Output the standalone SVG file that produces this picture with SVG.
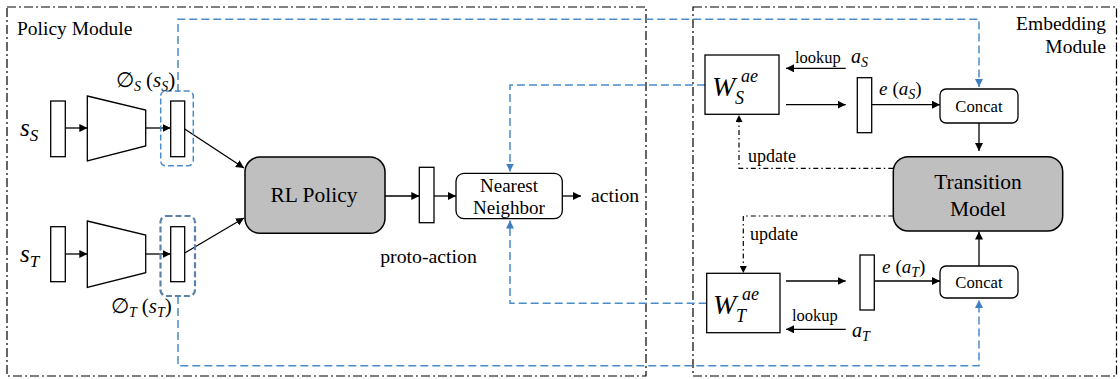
<svg xmlns="http://www.w3.org/2000/svg" width="1120" height="379" viewBox="0 0 1120 379" font-family="'Liberation Serif', serif">
<style>
text{font-family:'Liberation Serif',serif;fill:#000}
.m{font-style:italic}
.u{font-style:normal}
.box{fill:#fff;stroke:#000;stroke-width:1.3}
.gray{fill:#bfbfbf;stroke:#000;stroke-width:1.5}
.mod{fill:none;stroke:#000;stroke-width:1.2;stroke-dasharray:9 3 2 3}
.ln{fill:none;stroke:#000;stroke-width:1.3}
.dd{fill:none;stroke:#000;stroke-width:1.2;stroke-dasharray:5 3 1.5 3}
.bl{fill:none;stroke:#4a8bc8;stroke-width:1.5;stroke-dasharray:8 4}
</style>
<defs>
<marker id="ah" viewBox="0 0 10 10" refX="10" refY="5" markerWidth="8" markerHeight="8" markerUnits="userSpaceOnUse" orient="auto"><path d="M0,0 L10,5 L0,10 z" fill="#000"/></marker>
<marker id="ahs" viewBox="0 0 10 10" refX="10" refY="5" markerWidth="7" markerHeight="7" markerUnits="userSpaceOnUse" orient="auto"><path d="M0,0 L10,5 L0,10 z" fill="#000"/></marker>
<marker id="ab" viewBox="0 0 10 10" refX="10" refY="5" markerWidth="8" markerHeight="8" markerUnits="userSpaceOnUse" orient="auto"><path d="M0,0 L10,5 L0,10 z" fill="#3f7fc0"/></marker>
</defs>

<g id="modules">
<rect class="mod" x="7" y="7" width="639" height="369"/>
<rect class="mod" x="693" y="7" width="423.5" height="369"/>
<text x="17" y="35" font-size="19.5">Policy Module</text>
<text x="1106" y="30" font-size="19.5" text-anchor="end">Embedding</text>
<text x="1106" y="53" font-size="19.5" text-anchor="end">Module</text>
</g>

<g id="connectors">
<path class="bl" d="M178,92 V19.3 H979 V87" marker-end="url(#ab)"/>
<path class="bl" d="M178,296 V365.7 H979 V300" marker-end="url(#ab)"/>
<path class="bl" d="M705,85 H510 V171.5" marker-end="url(#ab)"/>
<path class="bl" d="M706.7,303.3 H510 V220.5" marker-end="url(#ab)"/>
<line class="ln" x1="65.3" y1="128" x2="87.3" y2="128" marker-end="url(#ah)"/>
<line class="ln" x1="145.7" y1="128" x2="170.7" y2="128" marker-end="url(#ah)"/>
<line class="ln" x1="65.3" y1="254" x2="87.3" y2="254" marker-end="url(#ah)"/>
<line class="ln" x1="145.7" y1="254" x2="170.7" y2="254" marker-end="url(#ah)"/>
<line class="ln" x1="184.7" y1="129" x2="244" y2="168" marker-end="url(#ah)"/>
<line class="ln" x1="184.7" y1="253" x2="244" y2="218" marker-end="url(#ah)"/>
<line class="ln" x1="385" y1="196" x2="419.3" y2="196" marker-end="url(#ah)"/>
<line class="ln" x1="434" y1="196" x2="456" y2="196" marker-end="url(#ah)"/>
<line class="ln" x1="562.3" y1="196" x2="581" y2="196" marker-end="url(#ah)"/>
<line class="ln" x1="845.7" y1="68.3" x2="786" y2="68.3" marker-end="url(#ah)"/>
<line class="ln" x1="786" y1="104.7" x2="845.7" y2="104.7" marker-end="url(#ah)"/>
<line class="ln" x1="871.7" y1="104.7" x2="940" y2="104.7" marker-end="url(#ah)"/>
<line class="ln" x1="979" y1="123" x2="979" y2="151" marker-end="url(#ah)"/>
<line class="ln" x1="786" y1="281" x2="845.7" y2="281" marker-end="url(#ah)"/>
<line class="ln" x1="874.3" y1="281" x2="940" y2="281" marker-end="url(#ah)"/>
<line class="ln" x1="979" y1="266" x2="979" y2="231.5" marker-end="url(#ah)"/>
<line class="ln" x1="845.7" y1="329.3" x2="786" y2="329.3" marker-end="url(#ah)"/>
<path class="dd" d="M893.3,168.3 H739 V115" marker-end="url(#ahs)"/>
<path class="dd" d="M893.3,216 H743.3 V273" marker-end="url(#ahs)"/>
</g>

<g id="input-s">
<rect class="box" x="50.7" y="101" width="14.6" height="55.7"/>
<text class="m" x="20" y="136" font-size="25">s<tspan font-size="17" dy="5">S</tspan></text>
</g>
<g id="encoder-s">
<path class="box" d="M87.3,96 L145.7,110 L145.7,146 L87.3,161 Z"/>
</g>
<g id="feature-s">
<rect class="box" x="170.7" y="101" width="14" height="55.7"/>
<rect x="160.7" y="91" width="32.6" height="74.7" rx="5" fill="none" stroke="#4a8bc8" stroke-width="1.5" stroke-dasharray="6 3"/>
<text x="116" y="87" font-size="21">∅<tspan class="m" font-size="14" dy="4">S</tspan><tspan dy="-4" dx="5">(</tspan><tspan class="m">s</tspan><tspan class="m" font-size="14" dy="4">S</tspan><tspan dy="-4">)</tspan></text>
</g>

<g id="input-t">
<rect class="box" x="50.7" y="226.7" width="14.6" height="55"/>
<text class="m" x="20" y="262" font-size="25">s<tspan font-size="17" dy="5">T</tspan></text>
</g>
<g id="encoder-t">
<path class="box" d="M87.3,221 L145.7,235 L145.7,272.7 L87.3,287.3 Z"/>
</g>
<g id="feature-t">
<rect class="box" x="170.7" y="226.7" width="14" height="55"/>
<rect x="160.5" y="216" width="34.5" height="80" rx="6" fill="none" stroke="#5b82ab" stroke-width="2.2" stroke-dasharray="6 3"/>
<text x="111" y="313" font-size="21">∅<tspan class="m" font-size="14" dy="4">T</tspan><tspan dy="-4" dx="5">(</tspan><tspan class="m">s</tspan><tspan class="m" font-size="14" dy="4">T</tspan><tspan dy="-4">)</tspan></text>
</g>

<g id="rl-policy">
<rect class="gray" x="245" y="157" width="140" height="76.3" rx="15"/>
<text x="314" y="202" font-size="21.5" text-anchor="middle">RL Policy</text>
</g>

<g id="proto-action">
<rect class="box" x="419.3" y="167.3" width="14.7" height="55.4"/>
<text x="428.5" y="263" font-size="19.8" text-anchor="middle">proto-action</text>
</g>

<g id="nearest-neighbor">
<rect class="box" x="456" y="173.3" width="106.3" height="45.4" rx="8"/>
<text x="509" y="192" font-size="19" text-anchor="middle">Nearest</text>
<text x="509" y="213.5" font-size="19" text-anchor="middle">Neighbor</text>
</g>

<g id="action">
<text x="591" y="202" font-size="19.7">action</text>
</g>

<g id="w-s">
<rect class="box" x="705" y="55" width="74" height="59.3"/>
<text class="m" x="712" y="96" font-size="28">W</text>
<text class="m" x="741" y="82" font-size="18">ae</text>
<text class="m" x="735" y="104" font-size="18">S</text>
</g>
<g id="a-s">
<text x="795" y="63" font-size="16.5">lookup</text>
<text class="m" x="851" y="63" font-size="20">a<tspan font-size="14" dy="4">S</tspan></text>
</g>
<g id="e-s">
<rect class="box" x="857.3" y="77.7" width="14.4" height="55"/>
<text x="879" y="95" font-size="19"><tspan class="m">e</tspan><tspan dx="5">(</tspan><tspan class="m">a</tspan><tspan class="m" font-size="14" dy="4">S</tspan><tspan dy="-4">)</tspan></text>
</g>
<g id="concat-s">
<rect class="box" x="940" y="89" width="78" height="34" rx="6"/>
<text x="979" y="111.5" font-size="16.7" text-anchor="middle">Concat</text>
</g>

<g id="transition-model">
<rect class="gray" x="893.3" y="156.7" width="169.4" height="74.3" rx="15"/>
<text x="978" y="189" font-size="21.5" text-anchor="middle">Transition</text>
<text x="978" y="216" font-size="21.5" text-anchor="middle">Model</text>
</g>

<g id="update-labels">
<text x="748" y="162" font-size="18">update</text>
<text x="750" y="240" font-size="18">update</text>
</g>

<g id="w-t">
<rect class="box" x="706.7" y="273.3" width="73.3" height="59.4"/>
<text class="m" x="713" y="314" font-size="28">W</text>
<text class="m" x="742" y="300" font-size="18">ae</text>
<text class="m" x="736" y="322" font-size="18">T</text>
</g>
<g id="a-t">
<text x="792" y="320.5" font-size="16.5">lookup</text>
<text class="m" x="852" y="337" font-size="20">a<tspan font-size="14" dy="4">T</tspan></text>
</g>
<g id="e-t">
<rect class="box" x="860" y="255" width="14.3" height="55"/>
<text x="882" y="273" font-size="19"><tspan class="m">e</tspan><tspan dx="5">(</tspan><tspan class="m">a</tspan><tspan class="m" font-size="14" dy="4">T</tspan><tspan dy="-4">)</tspan></text>
</g>
<g id="concat-t">
<rect class="box" x="940" y="266" width="78" height="32" rx="6"/>
<text x="979" y="288" font-size="16.7" text-anchor="middle">Concat</text>
</g>
</svg>
